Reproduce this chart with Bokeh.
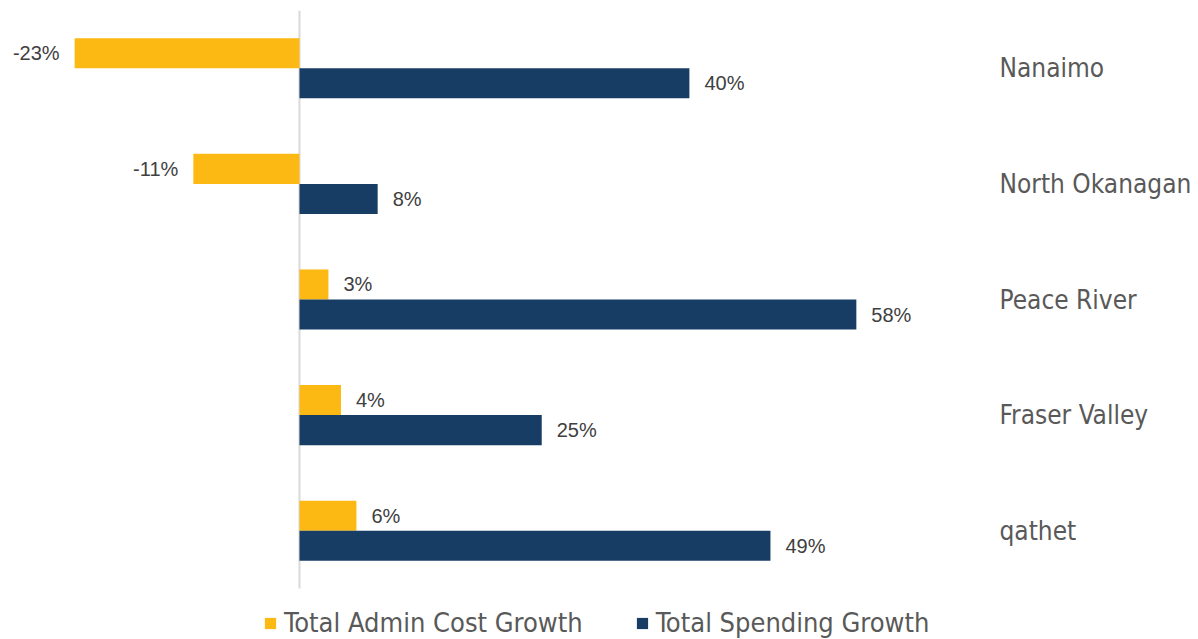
from bokeh.plotting import figure
from bokeh.models import ColumnDataSource, Range1d, Legend, LegendItem, FixedTicker
from bokeh.transform import dodge
from bokeh.core.properties import value
from bokeh.embed import file_html
from bokeh.resources import INLINE

# ---- data ----
categories = ["Nanaimo", "North Okanagan", "Peace River", "Fraser Valley", "qathet"]
admin_growth = [-23.3, -11.0, 3.0, 4.3, 5.9]
spending_growth = [40.4, 8.1, 57.7, 25.1, 48.8]
series_names = ["Total Admin Cost Growth", "Total Spending Growth"]
colors = ["#FDB913", "#173D64"]

CAT_FONT = "DejaVu Sans Condensed"
VAL_FONT = "Liberation Sans"


def lbl(v):
    return f"{round(v):.0f}%"


n = len(categories)
pos = [n - 1 - i for i in range(n)]  # first category at top

src = ColumnDataSource(dict(
    cat=categories,
    pos=pos,
    admin=admin_growth,
    spend=spending_growth,
    admin_lbl=[lbl(v) for v in admin_growth],
    spend_lbl=[lbl(v) for v in spending_growth],
    admin_align=["left" if v >= 0 else "right" for v in admin_growth],
    spend_align=["left" if v >= 0 else "right" for v in spending_growth],
    admin_off=[15 if v >= 0 else -15 for v in admin_growth],
    spend_off=[15 if v >= 0 else -15 for v in spending_growth],
))

FRAME_H = 629
CAT_PX = 578 / n
y_bottom = -0.5 - (FRAME_H - 578) / CAT_PX

p = figure(
    frame_width=990, frame_height=FRAME_H,
    y_range=Range1d(y_bottom, n - 0.5),
    x_range=Range1d(-30.98, 71.6),
    x_axis_location=None, y_axis_location="right",
    output_backend="svg", toolbar_location=None,
    min_border_left=0, min_border_top=10, min_border_right=0, min_border_bottom=0,
)
p.outline_line_color = None
p.xgrid.visible = False
p.ygrid.visible = False
p.background_fill_color = "white"
p.border_fill_color = "white"

# zero reference line spanning the category area
p.segment(x0=[0], y0=[-0.5], x1=[0], y1=[n - 0.5], line_color="#D9D9D9", line_width=2)

r1 = p.hbar(y=dodge("pos", 0.13), right="admin", left=0, height=0.26,
            source=src, fill_color=colors[0], line_color=None)
r2 = p.hbar(y=dodge("pos", -0.13), right="spend", left=0, height=0.26,
            source=src, fill_color=colors[1], line_color=None)

p.text(x="admin", y=dodge("pos", 0.13), text="admin_lbl", source=src,
       text_align="admin_align", x_offset="admin_off", text_baseline="middle",
       text_font=value(VAL_FONT), text_font_size="20px", text_color="#404040")
p.text(x="spend", y=dodge("pos", -0.13), text="spend_lbl", source=src,
       text_align="spend_align", x_offset="spend_off", text_baseline="middle",
       text_font=value(VAL_FONT), text_font_size="20px", text_color="#404040")

ax = p.yaxis[0]
ax.ticker = FixedTicker(ticks=pos)
ax.major_label_overrides = {p_: c for p_, c in zip(pos, categories)}
ax.axis_line_color = None
ax.major_tick_line_color = None
ax.minor_tick_line_color = None
ax.major_tick_out = 0
ax.major_tick_in = 0
ax.major_label_standoff = 9
ax.major_label_text_font = CAT_FONT
ax.major_label_text_font_size = "26px"
ax.major_label_text_color = "#595959"

legend = Legend(items=[LegendItem(label=series_names[0], renderers=[r1]),
                       LegendItem(label=series_names[1], renderers=[r2])],
                orientation="horizontal", location=(263, 1),
                glyph_width=14, glyph_height=14, label_standoff=7, spacing=52,
                label_text_font=CAT_FONT, label_text_font_size="27px",
                label_text_color="#595959", border_line_color=None,
                background_fill_alpha=0, padding=0, margin=0)
p.add_layout(legend, "center")

open("out.html", "w").write(file_html(p, INLINE))
